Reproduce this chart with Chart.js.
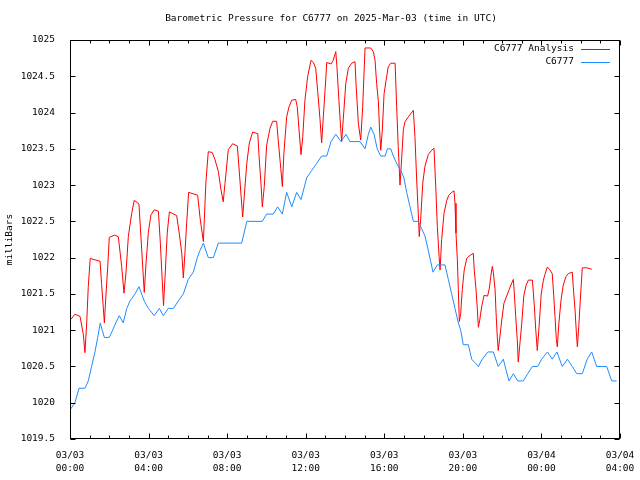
<!DOCTYPE html>
<html>
<head>
<meta charset="utf-8">
<script src="https://cdn.jsdelivr.net/npm/chart.js@4/dist/chart.umd.min.js"></script>
<style>
  body { margin: 0; background: #fff; }
  #wrap { width: 640px; height: 480px; }
</style>
</head>
<body>
<div id="wrap"><canvas id="c" width="640" height="480"></canvas></div>
<script>
// hours after 03/03 00:00 UTC, pressure in mb
const analysisHours = [
  0.05, 0.25, 0.51, 0.68, 0.76, 0.85, 0.93, 1.03, 1.27, 1.53, 1.61, 1.75, 1.82, 1.92,
  2.00, 2.26, 2.46, 2.63, 2.75, 2.85, 2.97, 3.14, 3.27, 3.51, 3.65, 3.78, 3.87, 3.99,
  4.12, 4.29, 4.50, 4.60, 4.76, 4.84, 4.95, 5.06, 5.43, 5.56, 5.69, 5.77, 5.85, 5.94,
  6.04, 6.50, 6.62, 6.79, 6.92, 7.04, 7.24, 7.38, 7.55, 7.69, 7.80, 7.89, 8.06, 8.28,
  8.52, 8.65, 8.79, 9.00, 9.13, 9.30, 9.56, 9.62, 9.72, 9.79, 9.89, 10.01, 10.18, 10.32,
  10.52, 10.60, 10.73, 10.81, 10.89, 11.03, 11.15, 11.29, 11.49, 11.57, 11.66, 11.76,
  11.85, 11.96, 12.10, 12.27, 12.39, 12.51, 12.61, 12.73, 12.81, 12.92, 13.03, 13.07,
  13.29, 13.40, 13.53, 13.59, 13.69, 13.78, 13.83, 13.91, 14.04, 14.17, 14.34, 14.51,
  14.56, 14.68, 14.80, 14.90, 15.02, 15.31, 15.44, 15.53, 15.61, 15.70, 15.75, 15.82,
  15.90, 15.99, 16.09, 16.20, 16.33, 16.55, 16.63, 16.71, 16.80, 16.89, 16.97, 17.05,
  17.22, 17.48, 17.56, 17.65, 17.73, 17.78, 17.85, 17.96, 18.07, 18.24, 18.41, 18.53,
  18.62, 18.70, 18.79, 18.84, 18.92, 19.04, 19.18, 19.29, 19.43, 19.55, 19.60, 19.65,
  19.72, 19.77, 19.82, 19.89, 19.97, 20.07, 20.20, 20.31, 20.53, 20.58, 20.67, 20.74,
  20.79, 20.86, 20.96, 21.08, 21.26, 21.35, 21.42, 21.50, 21.55, 21.64, 21.69, 21.75,
  21.80, 21.89, 21.98, 22.09, 22.23, 22.36, 22.49, 22.57, 22.62, 22.69, 22.77, 22.82,
  22.91, 23.00, 23.10, 23.21, 23.33, 23.54, 23.64, 23.71, 23.79, 23.88, 23.99, 24.10,
  24.18, 24.30, 24.44, 24.55, 24.62, 24.69, 24.76, 24.81, 24.89, 25.00, 25.11, 25.25,
  25.37, 25.57, 25.62, 25.71, 25.78, 25.83, 25.90, 26.00, 26.08, 26.30, 26.56
];
const analysisMb = [
  1021.15, 1021.22, 1021.19, 1020.94, 1020.69, 1021.10, 1021.60, 1021.99, 1021.97, 1021.95, 1021.63, 1021.10, 1021.44, 1021.87,
  1022.28, 1022.31, 1022.29, 1021.88, 1021.51, 1021.79, 1022.29, 1022.61, 1022.79, 1022.74, 1022.11, 1021.52, 1021.92, 1022.35,
  1022.59, 1022.66, 1022.64, 1022.20, 1021.34, 1021.74, 1022.34, 1022.63, 1022.58, 1022.34, 1022.06, 1021.72, 1022.06, 1022.48,
  1022.90, 1022.86, 1022.55, 1022.22, 1023.05, 1023.46, 1023.45, 1023.35, 1023.19, 1022.93, 1022.77, 1023.02, 1023.49, 1023.57,
  1023.54, 1023.07, 1022.56, 1023.30, 1023.58, 1023.73, 1023.71, 1023.42, 1023.03, 1022.70, 1022.98, 1023.55, 1023.78, 1023.88,
  1023.88, 1023.62, 1023.23, 1022.98, 1023.44, 1023.94, 1024.08, 1024.17, 1024.18, 1024.08, 1023.76, 1023.42,
  1023.67, 1024.17, 1024.50, 1024.72, 1024.69, 1024.61, 1024.29, 1023.90, 1023.58, 1024.04, 1024.50, 1024.69,
  1024.67, 1024.72, 1024.84, 1024.63, 1024.17, 1023.78, 1023.60, 1023.90, 1024.40, 1024.61, 1024.68, 1024.70,
  1024.40, 1023.85, 1023.62, 1024.08, 1024.89, 1024.89, 1024.84, 1024.72, 1024.40, 1024.15, 1023.81, 1023.48,
  1023.76, 1024.26, 1024.44, 1024.63, 1024.68, 1024.68, 1024.08, 1023.53, 1023.00, 1023.39, 1023.76, 1023.87,
  1023.94, 1024.03, 1023.67, 1023.07, 1022.61, 1022.29, 1022.52, 1023.03, 1023.26, 1023.42, 1023.48, 1023.51,
  1022.98, 1022.43, 1022.02, 1021.83, 1022.25, 1022.61, 1022.79, 1022.86, 1022.90, 1022.92, 1022.75, 1022.34,
  1021.97, 1021.56, 1021.12, 1021.23, 1021.56, 1021.83, 1021.99, 1022.02, 1022.06, 1021.83, 1021.56, 1021.28,
  1021.04, 1021.14, 1021.33, 1021.48, 1021.47, 1021.58, 1021.74, 1021.88, 1021.80, 1021.56, 1021.24, 1020.92,
  1020.72, 1020.92, 1021.14, 1021.37, 1021.47, 1021.56, 1021.65, 1021.70, 1021.51, 1021.19, 1020.87, 1020.56,
  1020.83, 1021.10, 1021.47, 1021.61, 1021.69, 1021.69, 1021.33, 1021.01, 1020.72, 1021.05, 1021.50, 1021.69,
  1021.77, 1021.87, 1021.83, 1021.78, 1021.51, 1021.19, 1020.87, 1020.77, 1021.10, 1021.42, 1021.62, 1021.74,
  1021.78, 1021.80, 1021.60, 1021.28, 1020.96, 1020.77, 1021.05, 1021.51, 1021.86, 1021.86, 1021.84
];

const stationHours = [
  0.00, 0.25, 0.46, 0.76, 0.93, 1.10, 1.27, 1.41, 1.54, 1.64, 1.75, 2.00, 2.17, 2.33,
  2.51, 2.71, 2.89, 3.05, 3.31, 3.51, 3.78, 3.99, 4.29, 4.55, 4.75, 5.00, 5.26, 5.51,
  5.77, 6.02, 6.28, 6.48, 6.62, 6.79, 7.04, 7.30, 7.55, 8.74, 9.00, 9.79, 10.01, 10.35,
  10.57, 10.81, 11.03, 11.29, 11.54, 11.76, 12.05, 12.30, 12.56, 12.81, 13.07, 13.29,
  13.53, 13.80, 14.05, 14.25, 14.76, 15.02, 15.19, 15.31, 15.48, 15.64, 15.82, 16.04,
  16.16, 16.33, 16.46, 16.63, 16.84, 17.00, 17.14, 17.31, 17.48, 17.73, 17.90, 18.07,
  18.24, 18.36, 18.48, 18.70, 19.09, 19.26, 19.43, 19.60, 19.77, 19.89, 20.02, 20.28,
  20.45, 20.62, 20.79, 20.99, 21.27, 21.55, 21.80, 22.06, 22.20, 22.35, 22.57, 22.79,
  23.08, 23.30, 23.54, 23.81, 24.01, 24.31, 24.55, 24.79, 25.06, 25.32, 25.57, 25.80,
  26.08, 26.33, 26.56, 26.81, 27.32, 27.58, 27.83
];
const stationMb = [
  1019.9, 1020.0, 1020.2, 1020.2, 1020.3, 1020.5, 1020.7, 1020.9, 1021.1, 1021.0, 1020.9, 1020.9, 1021.0, 1021.1,
  1021.2, 1021.1, 1021.3, 1021.4, 1021.5, 1021.6, 1021.4, 1021.3, 1021.2, 1021.3, 1021.2, 1021.3, 1021.3, 1021.4,
  1021.5, 1021.7, 1021.8, 1022.0, 1022.1, 1022.2, 1022.0, 1022.0, 1022.2, 1022.2, 1022.5, 1022.5, 1022.6, 1022.6,
  1022.7, 1022.6, 1022.9, 1022.7, 1022.9, 1022.8, 1023.1, 1023.2, 1023.3, 1023.4, 1023.4, 1023.6,
  1023.7, 1023.6, 1023.7, 1023.6, 1023.6, 1023.5, 1023.7, 1023.8, 1023.7, 1023.5, 1023.4, 1023.4,
  1023.5, 1023.5, 1023.4, 1023.3, 1023.2, 1023.1, 1022.9, 1022.7, 1022.5, 1022.5, 1022.4, 1022.3,
  1022.1, 1021.95, 1021.8, 1021.9, 1021.9, 1021.7, 1021.5, 1021.3, 1021.1, 1021.0, 1020.8, 1020.8,
  1020.6, 1020.55, 1020.5, 1020.6, 1020.7, 1020.7, 1020.5, 1020.6, 1020.45, 1020.3, 1020.4, 1020.3,
  1020.3, 1020.4, 1020.5, 1020.5, 1020.6, 1020.7, 1020.6, 1020.7, 1020.5, 1020.6, 1020.5, 1020.4,
  1020.4, 1020.6, 1020.7, 1020.5, 1020.5, 1020.3, 1020.3
];

const xTickLabels = [
  ['03/03', '00:00'], ['03/03', '04:00'], ['03/03', '08:00'], ['03/03', '12:00'],
  ['03/03', '16:00'], ['03/03', '20:00'], ['03/04', '00:00'], ['03/04', '04:00']
];
const seriesNames = ['C6777 Analysis', 'C6777'];
const seriesColors = ['#ff0000', '#1e8cff'];

const monoFont = { family: "'DejaVu Sans Mono', 'Liberation Mono', monospace", size: 9.5 };
const fontStr = "9.5px 'DejaVu Sans Mono', 'Liberation Mono', monospace";

//gnuplot style box, inward ticks, title and legend
const gnuplotFrame = {
  id: 'gnuplotFrame',
  afterDraw(chart) {
    const { ctx, chartArea: a, scales } = chart;
    const L = Math.round(a.left) + 0.5, R = Math.round(a.right) - 0.5;
    const T = Math.round(a.top) + 0.5, B = Math.round(a.bottom) - 0.5;
    ctx.save();
    ctx.strokeStyle = '#000';
    ctx.lineWidth = 1;
    ctx.strokeRect(L, T, R - L, B - T);
    ctx.beginPath();
    scales.x.ticks.forEach((t) => {
      const px = Math.round(scales.x.getPixelForValue(t.value)) + 0.5;
      const len = t.value % 4 === 0 ? 5 : 3;
      ctx.moveTo(px, B); ctx.lineTo(px, B - len);
      ctx.moveTo(px, T); ctx.lineTo(px, T + len);
    });
    scales.y.ticks.forEach((t) => {
      const py = Math.round(scales.y.getPixelForValue(t.value)) + 0.5;
      ctx.moveTo(L, py); ctx.lineTo(L + 5, py);
      ctx.moveTo(R, py); ctx.lineTo(R - 5, py);
    });
    ctx.stroke();

    ctx.fillStyle = '#000';
    ctx.font = fontStr;
    ctx.textBaseline = 'middle';
    ctx.textAlign = 'center';
    ctx.fillText('Barometric Pressure for C6777 on 2025-Mar-03 (time in UTC)', 331, 19);

    ctx.textAlign = 'right';
    seriesNames.forEach((name, i) => {
      const y = 49 + i * 13;
      ctx.fillStyle = '#000';
      ctx.fillText(name, 574, y);
      ctx.strokeStyle = seriesColors[i];
      ctx.beginPath();
      ctx.moveTo(581, y + 0.5);
      ctx.lineTo(610, y + 0.5);
      ctx.stroke();
    });
    ctx.restore();
  },
};

new Chart(document.getElementById('c'), {
  type: 'line',
  data: {
    datasets: [
      {
        label: seriesNames[0],
        data: analysisHours.map((h, i) => ({ x: h, y: analysisMb[i] })),
        borderColor: seriesColors[0],
        borderWidth: 1,
        pointRadius: 0,
        tension: 0,
        order: 2,
      },
      {
        label: seriesNames[1],
        data: stationHours.map((h, i) => ({ x: h, y: stationMb[i] })),
        borderColor: seriesColors[1],
        borderWidth: 1,
        pointRadius: 0,
        tension: 0,
        order: 1,
      },
    ],
  },
  options: {
    responsive: false,
    animation: false,
    devicePixelRatio: 1,
    layout: { padding: { top: 40, right: 20, bottom: 0, left: 0 } },
    plugins: {
      legend: { display: false },
      title: { display: false },
      tooltip: { enabled: false },
    },
    scales: {
      x: {
        type: 'linear',
        min: 0,
        max: 28,
        grid: { display: false },
        border: { display: false },
        ticks: {
          stepSize: 1,
          autoSkip: false,
          maxRotation: 0,
          padding: 2,
          color: '#000',
          font: { ...monoFont, lineHeight: 1.4 },
          callback: (v) => (v % 4 === 0 ? xTickLabels[v / 4] : ''),
        },
        afterFit: (s) => { s.height = 41; },
      },
      y: {
        min: 1019.5,
        max: 1025,
        grid: { display: false },
        border: { display: false },
        ticks: {
          stepSize: 0.5,
          padding: 7,
          color: '#000',
          font: monoFont,
          callback: (v) => String(v),
        },
        title: {
          display: true,
          text: 'milliBars',
          color: '#000',
          font: monoFont,
          padding: { top: 4, bottom: 0 },
        },
        afterFit: (s) => { s.width = 70; },
      },
    },
  },
  plugins: [gnuplotFrame],
});
</script>
</body>
</html>
